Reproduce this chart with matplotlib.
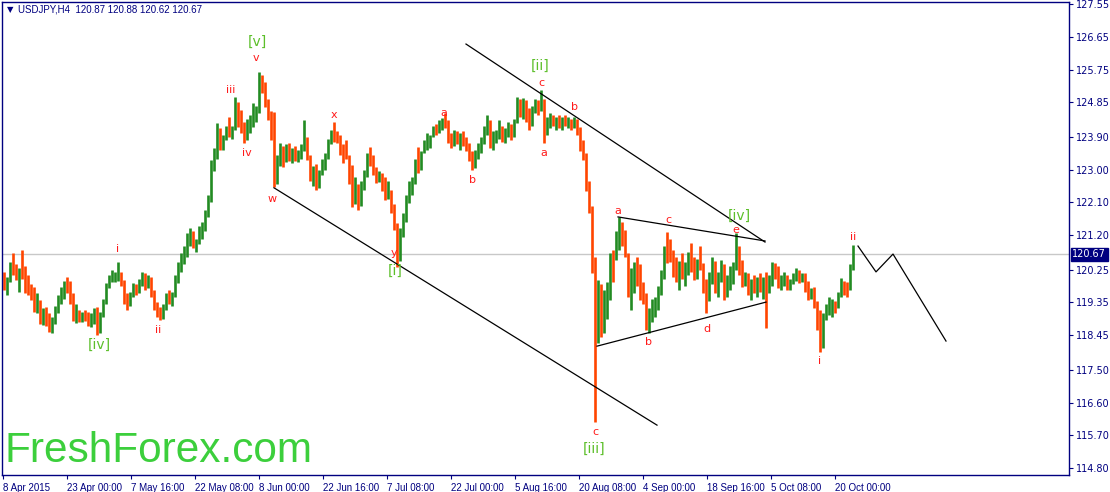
import matplotlib
matplotlib.use("Agg")
import matplotlib.pyplot as plt
import numpy as np

# bar data, one bar = three H4 bars (12h)
highs = [120.20, 120.05, 120.45, 120.71, 120.40, 120.30, 120.79, 120.35, 120.10, 119.85,
         119.78, 119.60, 119.42, 119.20, 119.23, 119.05, 118.95, 119.25, 119.55, 119.78,
         119.95, 120.05, 119.95, 119.60, 119.30, 119.14, 119.10, 119.14, 119.10, 119.05,
         119.20, 119.23, 119.10, 119.45, 119.88, 120.10, 120.24, 120.20, 120.46, 120.20,
         119.97, 119.60, 119.65, 119.88, 119.85, 120.00, 120.19, 120.15, 120.10, 120.05,
         119.70, 119.35, 119.23, 119.30, 119.60, 119.69, 119.65, 120.10, 120.45, 120.71,
         120.90, 121.25, 121.40, 121.30, 121.10, 121.45, 121.55, 121.90, 122.30, 123.26,
         123.60, 124.28, 124.15, 123.95, 124.20, 124.45, 124.20, 125.00, 124.85, 124.64,
         124.30, 124.40, 124.50, 124.83, 124.75, 125.68, 125.60, 125.40, 124.95, 124.60,
         124.58, 123.40, 123.73, 123.65, 123.70, 123.73, 123.60, 123.65, 123.55, 123.70,
         124.36, 123.90, 123.40, 123.10, 123.15, 123.00, 123.30, 123.46, 123.85, 124.10,
         124.31, 124.05, 123.95, 123.70, 123.81, 123.40, 123.13, 122.80, 122.60, 122.70,
         123.00, 123.45, 123.62, 123.40, 123.07, 122.95, 122.91, 122.80, 122.70, 122.44,
         122.05, 121.53, 121.40, 121.81, 122.30, 122.70, 122.80, 123.30, 123.62, 123.50,
         123.80, 124.01, 123.95, 124.20, 124.25, 124.35, 124.42, 124.56, 124.36, 124.00,
         124.09, 124.05, 124.00, 124.05, 123.90, 123.73, 123.50, 123.55, 123.73, 123.90,
         124.20, 124.50, 124.35, 124.05, 124.10, 124.36, 124.20, 124.15, 124.30, 124.25,
         124.40, 125.00, 124.95, 124.97, 124.90, 124.70, 124.75, 124.95, 124.90, 125.19,
         124.95, 124.45, 124.56, 124.50, 124.45, 124.50, 124.45, 124.50, 124.45, 124.40,
         124.45, 124.40, 124.17, 123.80, 123.45, 122.70, 122.00, 120.60, 119.97, 119.85,
         119.69, 119.90, 120.71, 120.80, 121.30, 121.70, 121.55, 121.35, 120.71, 120.30,
         120.45, 120.60, 120.40, 119.90, 119.61, 119.20, 119.45, 119.50, 119.80, 120.24,
         120.90, 121.29, 121.10, 120.79, 120.60, 120.50, 120.70, 120.45, 120.75, 120.98,
         120.60, 120.55, 120.90, 120.43, 120.00, 120.20, 120.60, 120.50, 120.20, 120.52,
         120.40, 120.10, 120.35, 120.45, 121.26, 120.90, 120.52, 120.20, 120.16, 120.00,
         120.10, 120.05, 120.16, 120.05, 120.20, 120.10, 120.46, 120.43, 120.35, 120.10,
         120.20, 120.10, 120.00, 120.15, 120.30, 120.25, 120.15, 120.16, 119.95, 119.75,
         119.78, 119.40, 119.14, 119.05, 119.30, 119.50, 119.45, 119.40, 119.65, 120.02,
         119.95, 119.90, 120.40, 120.93]
lows = [119.70, 119.55, 119.90, 120.10, 119.97, 119.65, 120.00, 119.60, 119.55, 119.42,
        119.10, 119.06, 118.75, 118.73, 118.70, 118.55, 118.51, 118.75, 119.05, 119.30,
        119.45, 119.60, 119.30, 118.85, 118.79, 118.80, 118.82, 118.85, 118.70, 118.68,
        118.75, 118.46, 118.50, 118.95, 119.30, 119.75, 119.91, 119.92, 119.95, 119.80,
        119.30, 119.14, 119.25, 119.50, 119.55, 119.60, 119.80, 119.69, 119.75, 119.50,
        119.14, 118.95, 118.87, 118.90, 119.14, 119.30, 119.25, 119.50, 119.88, 120.20,
        120.40, 120.60, 120.90, 120.85, 120.75, 120.95, 121.10, 121.30, 121.70, 122.10,
        122.95, 123.30, 123.54, 123.55, 123.81, 123.90, 123.85, 124.10, 124.17, 124.00,
        123.73, 123.80, 124.00, 124.17, 124.30, 124.55, 125.10, 124.72, 124.35, 123.81,
        122.52, 122.60, 123.10, 123.07, 123.20, 123.25, 123.18, 123.25, 123.20, 123.30,
        123.50, 123.26, 122.70, 122.55, 122.44, 122.50, 122.85, 123.00, 123.30, 123.70,
        123.75, 123.73, 123.40, 123.18, 123.30, 122.60, 121.97, 122.05, 121.89, 122.00,
        122.45, 122.80, 123.10, 122.85, 122.63, 122.65, 122.40, 122.17, 122.20, 121.80,
        121.34, 120.33, 120.50, 121.15, 121.55, 122.08, 122.30, 122.60, 122.91, 123.00,
        123.46, 123.55, 123.60, 123.90, 123.95, 124.00, 124.10, 124.15, 123.73, 123.60,
        123.65, 123.70, 123.54, 123.65, 123.50, 123.25, 122.99, 123.05, 123.30, 123.46,
        123.70, 123.95, 123.60, 123.55, 123.73, 123.85, 123.75, 123.73, 123.90, 123.80,
        123.90, 124.28, 124.45, 124.40, 124.30, 124.09, 124.20, 124.55, 124.50, 124.60,
        123.73, 123.95, 124.15, 124.20, 124.10, 124.15, 124.09, 124.20, 124.15, 124.10,
        124.15, 123.95, 123.50, 123.26, 122.40, 121.81, 120.16, 116.07, 118.24, 118.40,
        118.50, 118.90, 119.42, 119.90, 120.52, 120.80, 120.90, 120.60, 119.50, 119.14,
        119.60, 119.80, 119.42, 119.30, 118.60, 118.51, 118.80, 118.95, 119.14, 119.55,
        120.00, 120.43, 120.45, 120.05, 119.90, 119.69, 120.00, 119.80, 120.10, 120.20,
        119.97, 120.00, 120.25, 119.60, 119.06, 119.40, 119.85, 119.61, 119.50, 119.90,
        119.42, 119.50, 119.70, 119.85, 120.24, 120.10, 119.78, 119.80, 119.55, 119.42,
        119.60, 119.50, 119.65, 119.45, 118.65, 119.60, 119.80, 120.00, 119.75, 119.69,
        119.80, 119.69, 119.70, 119.85, 119.95, 119.88, 119.90, 119.65, 119.42, 119.45,
        119.20, 118.59, 117.99, 118.10, 118.87, 119.00, 118.95, 119.05, 119.20, 119.50,
        119.55, 119.50, 119.69, 120.25]
closes = [119.85, 119.95, 120.35, 120.25, 120.05, 120.15, 120.10, 119.75, 119.70, 119.55,
          119.30, 119.40, 118.95, 119.05, 118.85, 118.70, 118.80, 119.15, 119.45, 119.60,
          119.85, 119.70, 119.45, 119.05, 119.10, 118.95, 119.00, 118.95, 118.80, 118.85,
          118.90, 118.60, 119.00, 119.40, 119.80, 120.00, 120.05, 120.10, 120.15, 119.90,
          119.45, 119.35, 119.55, 119.75, 119.65, 119.95, 120.05, 119.85, 120.00, 119.60,
          119.25, 119.05, 119.00, 119.20, 119.50, 119.45, 119.55, 120.00, 120.35, 120.55,
          120.75, 121.10, 121.20, 120.95, 121.00, 121.35, 121.45, 121.75, 122.20, 123.05,
          123.40, 124.05, 123.75, 123.85, 124.10, 124.00, 124.15, 124.70, 124.30, 124.20,
          123.95, 124.25, 124.35, 124.55, 124.60, 125.50, 125.25, 124.85, 124.45, 124.00,
          122.80, 123.25, 123.55, 123.30, 123.45, 123.40, 123.50, 123.35, 123.45, 123.60,
          123.80, 123.35, 122.85, 122.95, 122.60, 122.90, 123.20, 123.35, 123.75, 123.95,
          123.90, 123.85, 123.55, 123.40, 123.35, 122.75, 122.30, 122.40, 122.05, 122.55,
          122.90, 123.30, 123.20, 123.00, 122.80, 122.85, 122.55, 122.35, 122.45, 121.95,
          121.50, 120.60, 121.25, 121.60, 122.20, 122.55, 122.65, 123.20, 123.10, 123.40,
          123.70, 123.75, 123.85, 124.10, 124.05, 124.25, 124.30, 124.20, 123.85, 123.70,
          123.95, 123.80, 123.90, 123.75, 123.60, 123.35, 123.10, 123.45, 123.60, 123.80,
          124.10, 124.15, 123.75, 123.90, 124.00, 124.10, 123.95, 124.05, 124.20, 123.95,
          124.30, 124.85, 124.60, 124.80, 124.45, 124.25, 124.65, 124.85, 124.70, 124.90,
          124.10, 124.35, 124.40, 124.30, 124.35, 124.25, 124.40, 124.30, 124.35, 124.20,
          124.30, 124.05, 123.65, 123.40, 122.60, 121.95, 120.40, 118.90, 119.60, 118.70,
          119.40, 119.70, 120.50, 120.20, 121.10, 121.40, 121.05, 120.75, 119.75, 120.10,
          120.30, 119.95, 119.60, 119.50, 118.85, 119.05, 119.25, 119.40, 119.70, 120.10,
          120.80, 120.70, 120.60, 120.40, 120.15, 120.30, 120.25, 120.35, 120.55, 120.40,
          120.20, 120.45, 120.30, 119.75, 119.65, 120.00, 120.40, 119.80, 120.05, 120.25,
          119.60, 119.95, 120.05, 120.35, 120.60, 120.30, 119.95, 120.00, 119.70, 119.85,
          119.75, 119.90, 119.80, 119.95, 119.70, 120.00, 120.30, 120.20, 119.90, 119.95,
          120.05, 119.85, 119.90, 120.05, 120.20, 120.00, 120.10, 119.80, 119.55, 119.65,
          119.30, 118.75, 118.45, 118.85, 119.15, 119.20, 119.35, 119.30, 119.55, 119.90,
          119.75, 119.60, 120.30, 120.67]
first_open = 120.00
last_price = 120.67

ytick_vals = [127.55, 126.65, 125.75, 124.85, 123.90, 123.00, 122.10, 121.20,
              120.25, 119.35, 118.45, 117.50, 116.60, 115.70, 114.80]
xtick_labels = ["8 Apr 2015", "23 Apr 00:00", "7 May 16:00", "22 May 08:00",
                "8 Jun 00:00", "22 Jun 16:00", "7 Jul 08:00", "22 Jul 00:00",
                "5 Aug 16:00", "20 Aug 08:00", "4 Sep 00:00", "18 Sep 16:00",
                "5 Oct 08:00", "20 Oct 00:00"]

# wave count labels: (text, H4 bar index, price, is_major)
wave_labels = [("[v]", 254, 126.51, True), ("v", 253, 126.07, False),
               ("iii", 228, 125.19, False), ("iv", 244, 123.46, False),
               ("w", 269, 122.19, False), ("x", 331, 124.50, False),
               ("y", 391, 120.71, False), ("[i]", 392, 120.21, True),
               ("a", 441, 124.56, False), ("b", 470, 122.71, False),
               ("[ii]", 537, 125.85, True), ("c", 538, 125.38, False),
               ("a", 541, 123.46, False), ("b", 572, 124.72, False),
               ("c", 592, 115.79, False), ("[iii]", 591, 115.33, True),
               ("a", 615, 121.86, False), ("c", 665, 121.62, False),
               ("[iv]", 736, 121.73, True), ("e", 733, 121.34, False),
               ("b", 646, 118.26, False), ("d", 704, 118.62, False),
               ("i", 817, 117.74, False), ("ii", 850, 121.15, False),
               ("i", 115, 120.82, False), ("ii", 155, 118.59, False),
               ("[iv]", 96, 118.18, True)]

# trend lines (bar index, price)
channel_top = ([463, 762], [126.45, 121.01])
channel_bot = ([271, 654], [122.50, 115.98])
tri_top = ([615, 762], [121.70, 121.04])
tri_bot = ([594, 763], [118.15, 119.36])
forecast = ([855, 873, 890, 943], [120.90, 120.19, 120.68, 118.29])

navy = "#000080"
up_col = "#228b22"
dn_col = "#ff4500"

fig = plt.figure(figsize=(11.1, 4.92), dpi=100)
ax = fig.add_axes([2 / 1110, 1 - 475 / 492, 1067 / 1110, 473 / 492])

n = len(closes)
xs = np.arange(n) * 3 + 1
opens = [first_open] + closes[:-1]
cols = []
for o, c in zip(opens, closes):
    if c > o:
        cols.append(up_col)
    elif c < o:
        cols.append(dn_col)
    else:
        cols.append("black")

ax.axhline(last_price, color="#c8c8c8", lw=1, zorder=0)
ax.vlines(xs, lows, highs, colors=cols, lw=1.9, zorder=2)

for line in [channel_top, channel_bot, tri_top, tri_bot, forecast]:
    ax.plot(line[0], line[1], color="black", lw=0.9, zorder=3)

for txt, bx, py, major in wave_labels:
    if major:
        ax.text(bx, py, txt, color="#5cbf2a", fontsize=10, ha="center", va="center", zorder=4)
    else:
        ax.text(bx, py, txt, color="#ff1a1a", fontsize=8, ha="center", va="center", zorder=4)

ax.set_xlim(-1, 1066)
ax.set_ylim(114.61, 127.605)

ax.yaxis.tick_right()
ax.set_yticks(ytick_vals)
ax.set_yticklabels(["%.2f" % v for v in ytick_vals])
ax.set_xticks(np.arange(len(xtick_labels)) * 64)
ax.set_xticklabels(xtick_labels, ha="left", family="Liberation Sans", fontsize=7)
ax.tick_params(axis="both", colors=navy, labelsize=7, length=3, width=0.8, pad=2)
ax.tick_params(axis="x", pad=3)
for lab in ax.get_xticklabels():
    lab.set_horizontalalignment("left")
    lab.set_fontfamily("Liberation Sans")
for s in ax.spines.values():
    s.set_color(navy)
    s.set_linewidth(1)

ax.text(1.003, last_price, "%.2f" % last_price, transform=ax.get_yaxis_transform(),
        color="white", fontsize=7, va="center", ha="left",
        bbox=dict(boxstyle="square,pad=0.15", fc=navy, ec=navy))

fig.text(7 / 1110, 1 - 10 / 492, "\u25bc", color=navy, fontsize=6, va="center")
fig.text(18 / 1110, 1 - 10 / 492, "USDJPY,H4  120.87 120.88 120.62 120.67",
         color=navy, fontsize=7, family="Liberation Sans", va="center")
fig.text(5 / 1110, 1 - 462 / 492, "FreshForex.com", color="#3ccf3c",
         fontsize=30.5, family="Liberation Sans", va="baseline")

fig.savefig("out.png", dpi=100)
